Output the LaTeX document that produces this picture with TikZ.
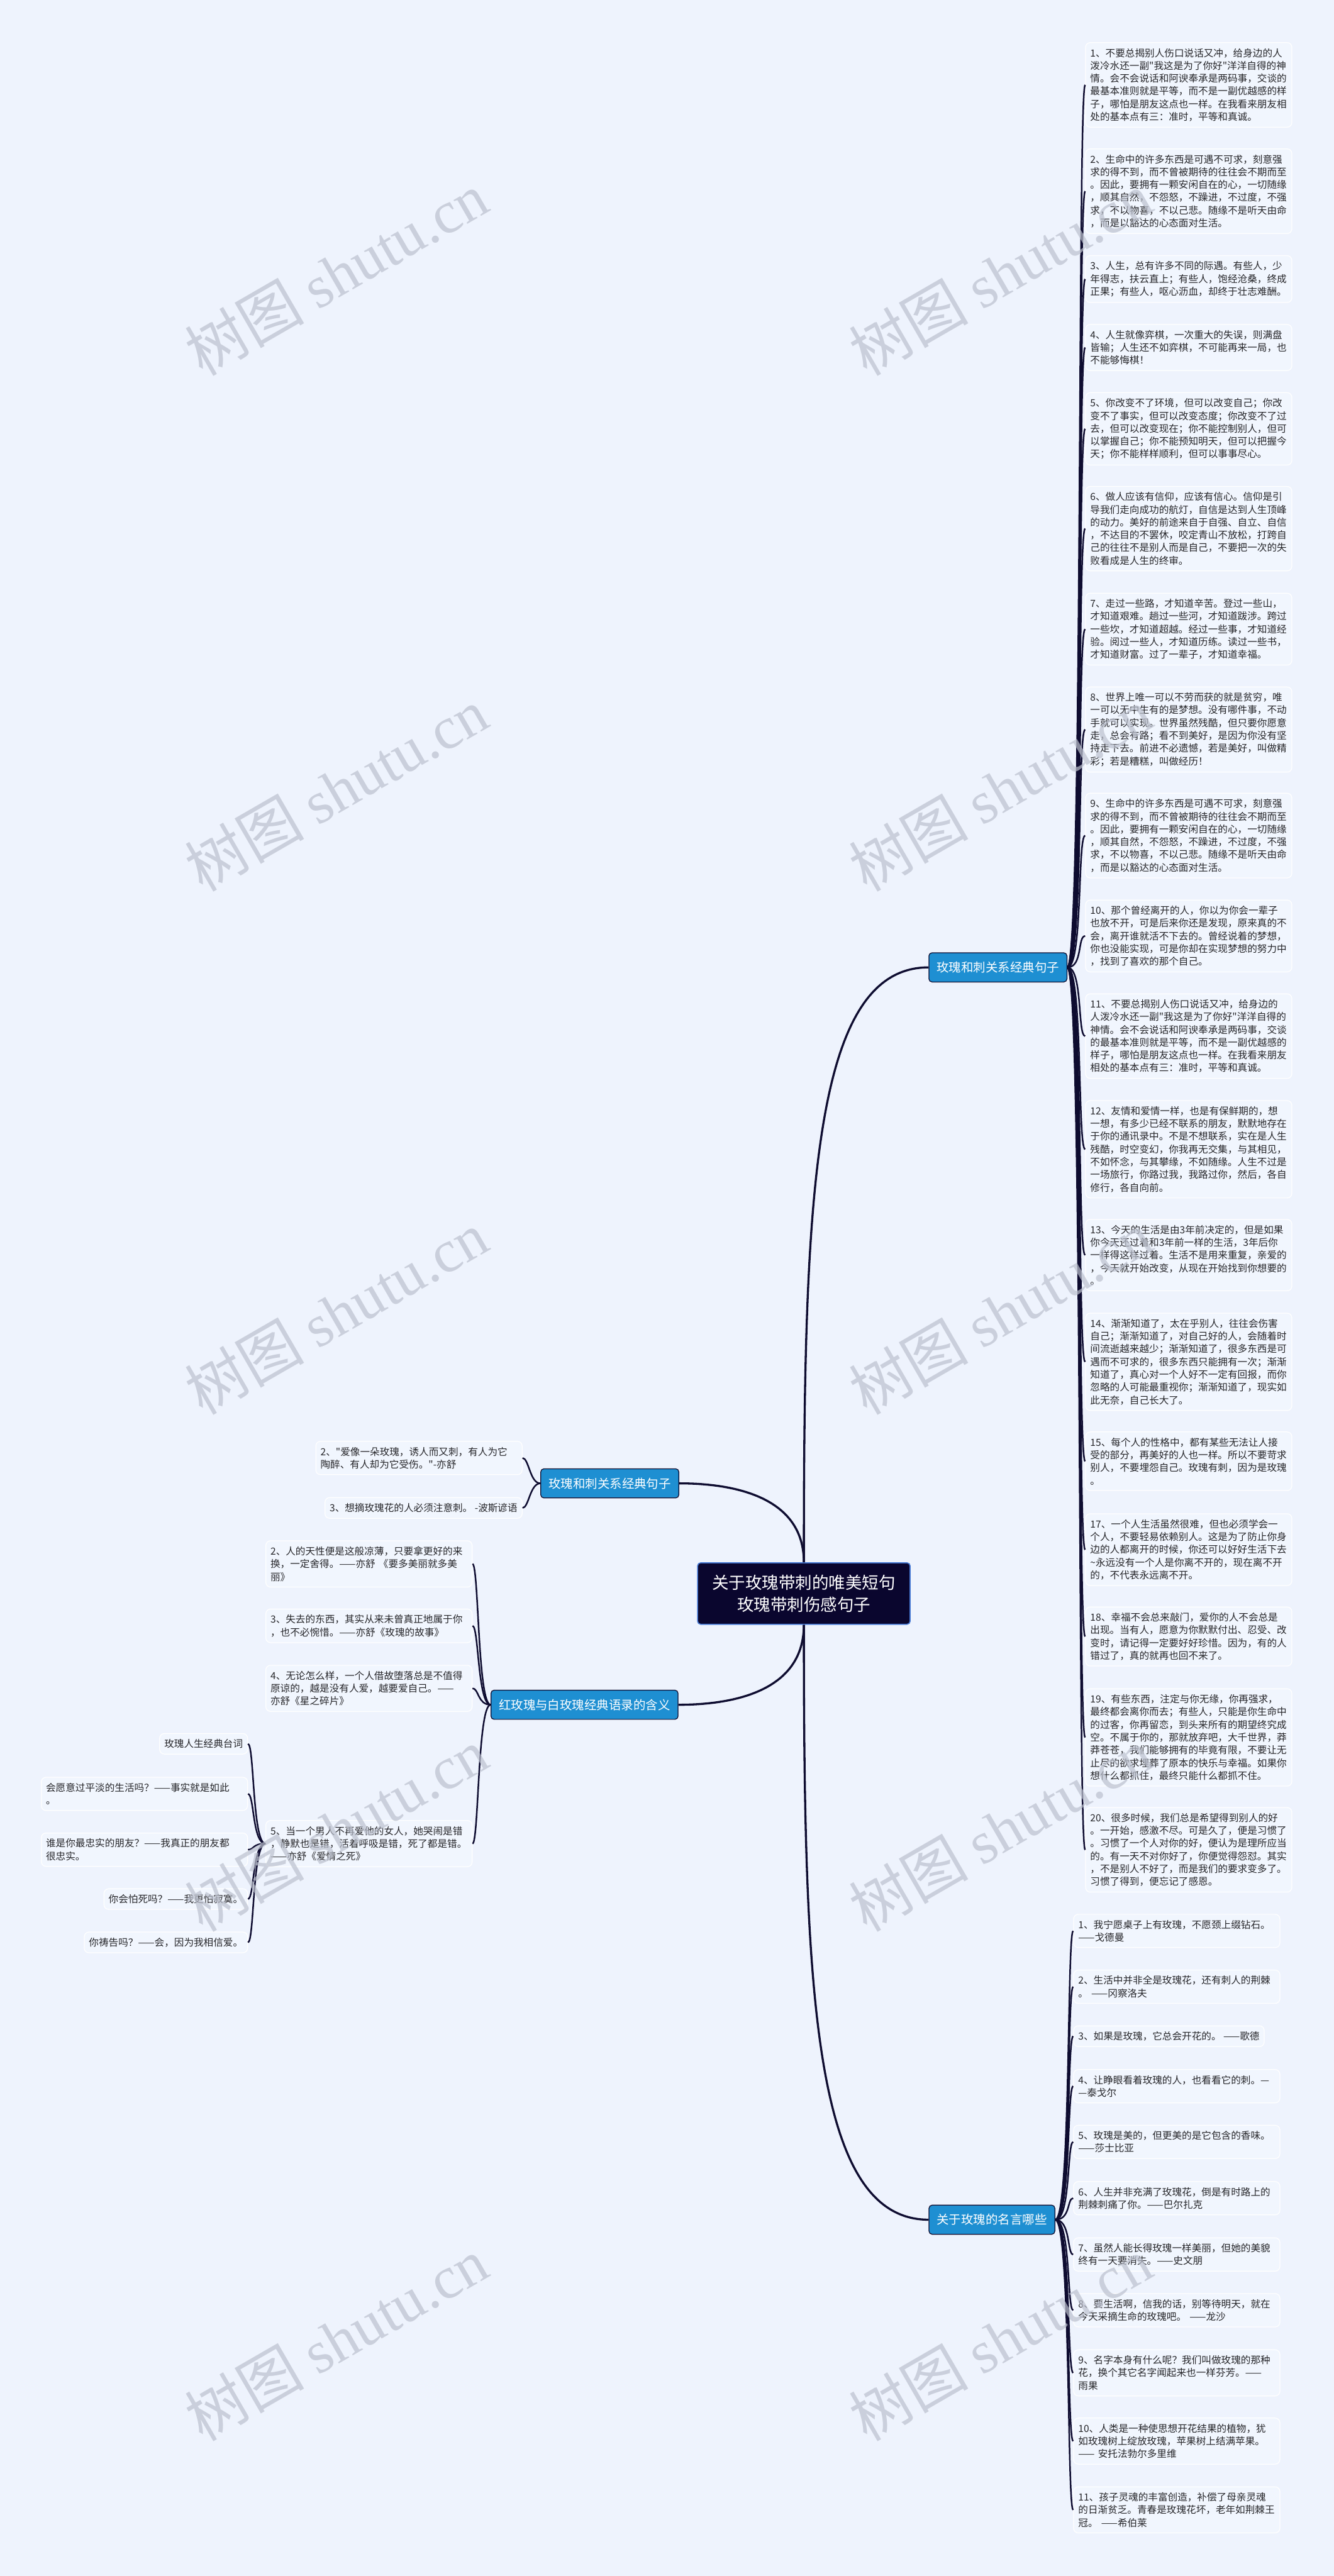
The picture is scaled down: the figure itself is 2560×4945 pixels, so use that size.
\documentclass[tikz,border=0pt]{standalone}
\usepackage{fontspec}
\setmainfont{Noto Sans CJK SC}[Ligatures=TeXOff]
\newfontfamily\wmfont{Liberation Serif}
\usetikzlibrary{positioning}
\definecolor{pagebg}{RGB}{238,243,253}
\definecolor{leaffill}{RGB}{241,246,254}
\definecolor{leaftext}{RGB}{38,38,42}
\definecolor{branchblue}{RGB}{30,143,210}
\definecolor{rootnavy}{RGB}{10,6,46}
\definecolor{rootedge}{RGB}{70,120,210}
\definecolor{linknavy}{RGB}{14,12,48}
\definecolor{wmgray}{RGB}{188,193,206}

\begin{document}
\begin{tikzpicture}[x=1pt, y=-1pt,
    leaf/.style={draw=white, line width=1.5pt, fill=leaffill, rounded corners=9pt, align=left,
      inner xsep=9pt, inner ysep=11pt, text=leaftext, font=\fontsize{18.85}{24.5}\selectfont},
    leafw/.style={leaf, text width=378pt},
    branch/.style={draw=linknavy, line width=1.5pt, fill=branchblue, rounded corners=6pt, text=white,
      minimum height=56pt, inner xsep=15pt, font=\fontsize{23.5}{28}\selectfont},
    root/.style={draw=rootedge, line width=2pt, fill=rootnavy, rounded corners=6pt, text=white, align=center,
      minimum width=408pt, minimum height=118pt, font=\fontsize{32}{42}\selectfont},
    link/.style={draw=linknavy, line width=3pt},
    trunk/.style={draw=linknavy, line width=4pt},
    wmark/.style={text=wmgray, opacity=0.7, rotate=30, font=\fontsize{115}{115}\selectfont}
  ]
  \useasboundingbox (0,0) rectangle (2560,4945);
  \fill[pagebg] (0,0) rectangle (2560,4945);

  % centre and main branches
  \node[root] (root) at (1543,3059) {关于玫瑰带刺的唯美短句\\玫瑰带刺伤感句子};
  \node[branch] (rb1) at (1915.5,1857) {玫瑰和刺关系经典句子};
  \node[branch] (rb2) at (1904,4261) {关于玫瑰的名言哪些};
  \node[branch] (lb1) at (1170.5,2847.5) {玫瑰和刺关系经典句子};
  \node[branch] (lb2) at (1122,3272.5) {红玫瑰与白玫瑰经典语录的含义};

  % right: 玫瑰和刺关系经典句子
  \node[leafw, anchor=north west] (a1) at (2083,81) {1、不要总揭别人伤口说话又冲，给身边的人\\泼冷水还一副"我这是为了你好"洋洋自得的神\\情。会不会说话和阿谀奉承是两码事，交谈的\\最基本准则就是平等，而不是一副优越感的样\\子，哪怕是朋友这点也一样。在我看来朋友相\\处的基本点有三：准时，平等和真诚。};
  \node[leafw, anchor=north west] (a2) at (2083,285) {2、生命中的许多东西是可遇不可求，刻意强\\求的得不到，而不曾被期待的往往会不期而至\\。因此，要拥有一颗安闲自在的心，一切随缘\\，顺其自然，不怨怒，不躁进，不过度，不强\\求，不以物喜，不以己悲。随缘不是听天由命\\，而是以豁达的心态面对生活。};
  \node[leafw, anchor=north west] (a3) at (2083,490) {3、人生，总有许多不同的际遇。有些人，少\\年得志，扶云直上；有些人，饱经沧桑，终成\\正果；有些人，呕心沥血，却终于壮志难酬。};
  \node[leafw, anchor=north west] (a4) at (2083,622) {4、人生就像弈棋，一次重大的失误，则满盘\\皆输；人生还不如弈棋，不可能再来一局，也\\不能够悔棋！};
  \node[leafw, anchor=north west] (a5) at (2083,753) {5、你改变不了环境，但可以改变自己；你改\\变不了事实，但可以改变态度；你改变不了过\\去，但可以改变现在；你不能控制别人，但可\\以掌握自己；你不能预知明天，但可以把握今\\天；你不能样样顺利，但可以事事尽心。};
  \node[leafw, anchor=north west] (a6) at (2083,933) {6、做人应该有信仰，应该有信心。信仰是引\\导我们走向成功的航灯，自信是达到人生顶峰\\的动力。美好的前途来自于自强、自立、自信\\，不达目的不罢休，咬定青山不放松，打跨自\\己的往往不是别人而是自己，不要把一次的失\\败看成是人生的终审。};
  \node[leafw, anchor=north west] (a7) at (2083,1138) {7、走过一些路，才知道辛苦。登过一些山，\\才知道艰难。趟过一些河，才知道跋涉。跨过\\一些坎，才知道超越。经过一些事，才知道经\\验。阅过一些人，才知道历练。读过一些书，\\才知道财富。过了一辈子，才知道幸福。};
  \node[leafw, anchor=north west] (a8) at (2083,1318) {8、世界上唯一可以不劳而获的就是贫穷，唯\\一可以无中生有的是梦想。没有哪件事，不动\\手就可以实现。世界虽然残酷，但只要你愿意\\走，总会有路；看不到美好，是因为你没有坚\\持走下去。前进不必遗憾，若是美好，叫做精\\彩；若是糟糕，叫做经历！};
  \node[leafw, anchor=north west] (a9) at (2083,1522) {9、生命中的许多东西是可遇不可求，刻意强\\求的得不到，而不曾被期待的往往会不期而至\\。因此，要拥有一颗安闲自在的心，一切随缘\\，顺其自然，不怨怒，不躁进，不过度，不强\\求，不以物喜，不以己悲。随缘不是听天由命\\，而是以豁达的心态面对生活。};
  \node[leafw, anchor=north west] (a10) at (2083,1727) {10、那个曾经离开的人，你以为你会一辈子\\也放不开，可是后来你还是发现，原来真的不\\会，离开谁就活不下去的。曾经说着的梦想，\\你也没能实现，可是你却在实现梦想的努力中\\，找到了喜欢的那个自己。};
  \node[leafw, anchor=north west] (a11) at (2083,1907) {11、不要总揭别人伤口说话又冲，给身边的\\人泼冷水还一副"我这是为了你好"洋洋自得的\\神情。会不会说话和阿谀奉承是两码事，交谈\\的最基本准则就是平等，而不是一副优越感的\\样子，哪怕是朋友这点也一样。在我看来朋友\\相处的基本点有三：准时，平等和真诚。};
  \node[leafw, anchor=north west] (a12) at (2083,2112) {12、友情和爱情一样，也是有保鲜期的，想\\一想，有多少已经不联系的朋友，默默地存在\\于你的通讯录中。不是不想联系，实在是人生\\残酷，时空变幻，你我再无交集，与其相见，\\不如怀念，与其攀缘，不如随缘。人生不过是\\一场旅行，你路过我，我路过你，然后，各自\\修行，各自向前。};
  \node[leafw, anchor=north west] (a13) at (2083,2340) {13、今天的生活是由3年前决定的，但是如果\\你今天还过着和3年前一样的生活，3年后你\\一样得这样过着。生活不是用来重复，亲爱的\\，今天就开始改变，从现在开始找到你想要的\\。};
  \node[leafw, anchor=north west] (a14) at (2083,2520) {14、渐渐知道了，太在乎别人，往往会伤害\\自己；渐渐知道了，对自己好的人，会随着时\\间流逝越来越少；渐渐知道了，很多东西是可\\遇而不可求的，很多东西只能拥有一次；渐渐\\知道了，真心对一个人好不一定有回报，而你\\忽略的人可能最重视你；渐渐知道了，现实如\\此无奈，自己长大了。};
  \node[leafw, anchor=north west] (a15) at (2083,2748) {15、每个人的性格中，都有某些无法让人接\\受的部分，再美好的人也一样。所以不要苛求\\别人，不要埋怨自己。玫瑰有刺，因为是玫瑰\\。};
  \node[leafw, anchor=north west] (a17) at (2083,2905) {17、一个人生活虽然很难，但也必须学会一\\个人，不要轻易依赖别人。这是为了防止你身\\边的人都离开的时候，你还可以好好生活下去\\\textasciitilde 永远没有一个人是你离不开的，现在离不开\\的，不代表永远离不开。};
  \node[leafw, anchor=north west] (a18) at (2083,3084) {18、幸福不会总来敲门，爱你的人不会总是\\出现。当有人，愿意为你默默付出、忍受、改\\变时，请记得一定要好好珍惜。因为，有的人\\错过了，真的就再也回不来了。};
  \node[leafw, anchor=north west] (a19) at (2083,3241) {19、有些东西，注定与你无缘，你再强求，\\最终都会离你而去；有些人，只能是你生命中\\的过客，你再留恋，到头来所有的期望终究成\\空。不属于你的，那就放弃吧，大千世界，莽\\莽苍苍，我们能够拥有的毕竟有限，不要让无\\止尽的欲求埋葬了原本的快乐与幸福。如果你\\想什么都抓住，最终只能什么都抓不住。};
  \node[leafw, anchor=north west] (a20) at (2083,3469) {20、很多时候，我们总是希望得到别人的好\\。一开始，感激不尽。可是久了，便是习惯了\\。习惯了一个人对你的好，便认为是理所应当\\的。有一天不对你好了，你便觉得怨怼。其实\\，不是别人不好了，而是我们的要求变多了。\\习惯了得到，便忘记了感恩。};

  % right: 关于玫瑰的名言哪些
  \node[leafw, anchor=north west] (b1) at (2060,3674) {1、我宁愿桌子上有玫瑰，不愿颈上缀钻石。\\——戈德曼};
  \node[leafw, anchor=north west] (b2) at (2060,3781) {2、生活中并非全是玫瑰花，还有刺人的荆棘\\。 ——冈察洛夫};
  \node[leaf, anchor=north west] (b3) at (2060,3888) {3、如果是玫瑰，它总会开花的。 ——歌德};
  \node[leafw, anchor=north west] (b4) at (2060,3972) {4、让睁眼看着玫瑰的人，也看看它的刺。—\\—泰戈尔};
  \node[leafw, anchor=north west] (b5) at (2060,4079) {5、玫瑰是美的，但更美的是它包含的香味。\\——莎士比亚};
  \node[leafw, anchor=north west] (b6) at (2060,4187) {6、人生并非充满了玫瑰花，倒是有时路上的\\荆棘刺痛了你。——巴尔扎克};
  \node[leafw, anchor=north west] (b7) at (2060,4295) {7、虽然人能长得玫瑰一样美丽，但她的美貌\\终有一天要消失。——史文朋};
  \node[leafw, anchor=north west] (b8) at (2060,4402) {8、要生活啊，信我的话，别等待明天，就在\\今天采摘生命的玫瑰吧。 ——龙沙};
  \node[leafw, anchor=north west] (b9) at (2060,4510) {9、名字本身有什么呢？我们叫做玫瑰的那种\\花，换个其它名字闻起来也一样芬芳。——\\雨果};
  \node[leafw, anchor=north west] (b10) at (2060,4641) {10、人类是一种使思想开花结果的植物，犹\\如玫瑰树上绽放玫瑰，苹果树上结满苹果。\\—— 安托法勃尔多里维};
  \node[leafw, anchor=north west] (b11) at (2060,4773) {11、孩子灵魂的丰富创造，补偿了母亲灵魂\\的日渐贫乏。青春是玫瑰花坏，老年如荆棘王\\冠。 ——希伯莱};

  % left: 玫瑰和刺关系经典句子
  \node[leafw, anchor=north east] (c2) at (1003,2766) {2、"爱像一朵玫瑰，诱人而又刺，有人为它\\陶醉、有人却为它受伤。"-亦舒};
  \node[leaf, anchor=north east] (c3) at (1003,2874) {3、想摘玫瑰花的人必须注意刺。 -波斯谚语};

  % left: 红玫瑰与白玫瑰经典语录的含义
  \node[leafw, anchor=north east] (d2) at (907,2957) {2、人的天性便是这般凉薄，只要拿更好的来\\换，一定舍得。——亦舒 《要多美丽就多美\\丽》};
  \node[leafw, anchor=north east] (d3) at (907,3088) {3、失去的东西，其实从来未曾真正地属于你\\，也不必惋惜。——亦舒《玫瑰的故事》};
  \node[leafw, anchor=north east] (d4) at (907,3196) {4、无论怎么样，一个人借故堕落总是不值得\\原谅的，越是没有人爱，越要爱自己。——\\亦舒《星之碎片》};
  \node[leafw, anchor=north east] (d5) at (907,3494) {5、当一个男人不再爱他的女人，她哭闹是错\\，静默也是错，活着呼吸是错，死了都是错。\\——亦舒《爱情之死》};

  \node[leaf, anchor=north east] (e1) at (476,3327) {玫瑰人生经典台词};
  \node[leafw, anchor=north east] (e2) at (476,3411) {会愿意过平淡的生活吗？——事实就是如此\\。};
  \node[leafw, anchor=north east] (e3) at (476,3518) {谁是你最忠实的朋友？——我真正的朋友都\\很忠实。};
  \node[leaf, anchor=north east] (e4) at (476,3625) {你会怕死吗？——我更怕寂寞。};
  \node[leaf, anchor=north east] (e5) at (476,3708) {你祷告吗？——会，因为我相信爱。};

  % connectors
  \draw[trunk] (root.north) .. controls +(0,-700) and +(-223,0) .. (rb1.west);
  \draw[trunk] (root.south) .. controls +(0,700) and +(-223,0) .. (rb2.west);
  \draw[trunk] (root.north) .. controls +(0,-120) and +(117,0) .. (lb1.east);
  \draw[trunk] (root.south) .. controls +(0,122) and +(117,0) .. (lb2.east);

  \foreach \n in {a1,a2,a3,a4,a5,a6,a7,a8,a9,a10,a11,a12,a13,a14,a15,a17,a18,a19,a20}
    \draw[link] (rb1.east) .. controls +(30,0) and +(-15,0) .. (\n.west);
  \foreach \n in {b1,b2,b3,b4,b5,b6,b7,b8,b9,b10,b11}
    \draw[link] (rb2.east) .. controls +(30,0) and +(-12,0) .. (\n.west);
  \foreach \n in {c2,c3}
    \draw[link] (lb1.west) .. controls +(-20,0) and +(12,0) .. (\n.east);
  \foreach \n in {d2,d3,d4,d5}
    \draw[link] (lb2.west) .. controls +(-25,0) and +(12,0) .. (\n.east);
  \foreach \n in {e1,e2,e3,e4,e5}
    \draw[link] (d5.west) .. controls +(-25,0) and +(12,0) .. (\n.east);

  % watermark
  \foreach \y in {525,1515,2520,3512,4490} {
    \node[wmark] (wmL\y) at (645,\y) {树图 {\wmfont shutu.cn}};
    \node[wmark] (wmR\y) at (1920,\y) {树图 {\wmfont shutu.cn}};
  }
\end{tikzpicture}
\end{document}
